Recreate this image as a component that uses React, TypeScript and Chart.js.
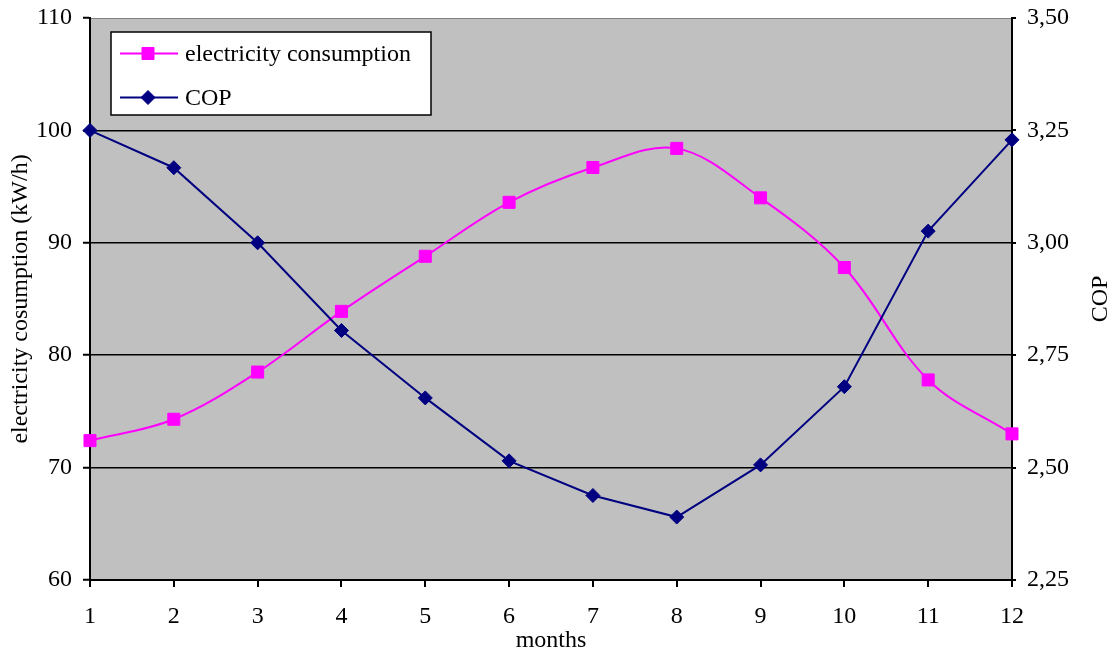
import React, { useEffect, useRef } from 'react';
import { Chart, registerables } from 'chart.js';

Chart.register(...registerables);

// Monthly values
const months = ['1', '2', '3', '4', '5', '6', '7', '8', '9', '10', '11', '12'];
const electricity = [72.4, 74.3, 78.5, 83.9, 88.8, 93.6, 96.7, 98.4, 94.0, 87.8, 77.8, 73.0];
const cop = [3.25, 3.167, 3.0, 2.805, 2.655, 2.515, 2.438, 2.39, 2.506, 2.68, 3.026, 3.229];

// Axis ranges
const elecRange = [60, 110];
const elecStep = 10;
const copRange = [2.25, 3.5];
const copStep = 0.25;

// Texts
const seriesNames = ['electricity consumption', 'COP'];
const xTitle = 'months';
const leftTitle = 'electricity cosumption (kW/h)';
const rightTitle = 'COP';

const FONT_FAMILY = "'Liberation Serif', 'Times New Roman', serif";
const FONT_SIZE = 24;
const PINK = '#FF00FF';
const NAVY = '#000080';
const PLOT_BG = '#C0C0C0';

const font = { family: FONT_FAMILY, size: FONT_SIZE, lineHeight: 1.2 };

const formatCop = (v: number) => Number(v).toFixed(2).replace('.', ',');

// Keep the plot frame fixed: axis boxes get set sizes and no extra label padding
const fixVertical = (width: number) => (s: any) => {
  s.width = width;
  s.paddingTop = 0;
  s.paddingBottom = 0;
};

// Gray plot area fill behind everything
const plotBackground = {
  id: 'plotBackground',
  beforeDraw(chart: any) {
    const { ctx, chartArea } = chart;
    const { left, top, right, bottom } = chartArea;
    ctx.save();
    ctx.fillStyle = PLOT_BG;
    ctx.fillRect(left, top, right - left, bottom - top);
    ctx.strokeStyle = '#808080';
    ctx.lineWidth = 1;
    ctx.beginPath();
    ctx.moveTo(left, top + 0.5);
    ctx.lineTo(right, top + 0.5);
    ctx.stroke();
    ctx.restore();
  },
};

// Secondary axis title, reading bottom to top
const rightAxisTitle = {
  id: 'rightAxisTitle',
  afterDraw(chart: any) {
    const { ctx, chartArea } = chart;
    ctx.save();
    ctx.translate(chart.width - 18, (chartArea.top + chartArea.bottom) / 2);
    ctx.rotate(-Math.PI / 2);
    ctx.fillStyle = '#000';
    ctx.font = `${FONT_SIZE}px ${FONT_FAMILY}`;
    ctx.textAlign = 'center';
    ctx.textBaseline = 'middle';
    ctx.fillText(rightTitle, 0, 0);
    ctx.restore();
  },
};

function drawMarker(ctx: CanvasRenderingContext2D, style: string, x: number, y: number, r: number, color: string) {
  ctx.fillStyle = color;
  ctx.strokeStyle = color;
  ctx.lineWidth = 1;
  ctx.beginPath();
  if (style === 'rect') {
    const s = Math.SQRT1_2 * r;
    ctx.rect(x - s, y - s, 2 * s, 2 * s);
  } else {
    ctx.moveTo(x - r, y);
    ctx.lineTo(x, y - r);
    ctx.lineTo(x + r, y);
    ctx.lineTo(x, y + r);
    ctx.closePath();
  }
  ctx.fill();
  ctx.stroke();
}

// Boxed legend inside the plot area
const boxedLegend = {
  id: 'boxedLegend',
  afterDraw(chart: any) {
    const { ctx, chartArea } = chart;
    const x0 = chartArea.left + 21;
    const y0 = chartArea.top + 14;
    const w = 320;
    const h = 83;
    ctx.save();
    ctx.fillStyle = '#fff';
    ctx.fillRect(x0, y0, w, h);
    ctx.strokeStyle = '#000';
    ctx.lineWidth = 1.5;
    ctx.strokeRect(x0, y0, w, h);
    const entries = chart.data.datasets.map((ds: any, i: number) => ({
      label: ds.label,
      color: ds.borderColor,
      style: ds.pointStyle,
      r: i === 0 ? 8.5 : 7,
      y: y0 + 21.5 + i * 44,
    }));
    ctx.font = `${FONT_SIZE}px ${FONT_FAMILY}`;
    ctx.textBaseline = 'middle';
    ctx.textAlign = 'left';
    for (const e of entries) {
      ctx.strokeStyle = e.color;
      ctx.lineWidth = 2;
      ctx.beginPath();
      ctx.moveTo(x0 + 9, e.y);
      ctx.lineTo(x0 + 67, e.y);
      ctx.stroke();
      drawMarker(ctx, e.style, x0 + 37, e.y, e.r, e.color);
      ctx.fillStyle = '#000';
      ctx.fillText(e.label, x0 + 74, e.y + 1);
    }
    ctx.restore();
  },
};

export default function App() {
  const canvasRef = useRef<HTMLCanvasElement>(null);

  useEffect(() => {
    const chart = new Chart(canvasRef.current!, {
      type: 'line',
      data: {
        labels: months,
        datasets: [
          {
            label: seriesNames[0],
            data: electricity,
            yAxisID: 'y',
            borderColor: PINK,
            backgroundColor: PINK,
            borderWidth: 2,
            pointStyle: 'rect',
            pointRadius: 8.5,
            pointBorderWidth: 1,
            tension: 0.35,
            clip: false,
            order: 2,
          },
          {
            label: seriesNames[1],
            data: cop,
            yAxisID: 'y2',
            borderColor: NAVY,
            backgroundColor: NAVY,
            borderWidth: 2,
            pointStyle: 'rectRot',
            pointRadius: 7,
            pointBorderWidth: 1,
            tension: 0,
            clip: false,
            order: 1,
          },
        ],
      },
      options: {
        animation: false,
        responsive: true,
        maintainAspectRatio: false,
        events: [],
        layout: { padding: { top: 18, left: 0, right: 0, bottom: 0 } },
        plugins: {
          legend: { display: false },
          tooltip: { enabled: false },
        },
        scales: {
          x: {
            type: 'category',
            offset: false,
            grid: { drawOnChartArea: false, color: '#000', lineWidth: 2, tickLength: 7 },
            border: { color: '#000', width: 2 },
            ticks: { color: '#000', font, padding: 15, maxRotation: 0, autoSkip: false },
            title: { display: true, text: xTitle, color: '#000', font, padding: { top: 0, bottom: 0 } },
            afterFit: (s: any) => {
              s.height = 75;
              s.paddingLeft = 0;
              s.paddingRight = 0;
            },
          },
          y: {
            position: 'left',
            min: elecRange[0],
            max: elecRange[1],
            ticks: { stepSize: elecStep, color: '#000', font, padding: 11 },
            grid: {
              color: (c: any) => (c.tick && c.tick.value === elecRange[1] ? 'rgba(0,0,0,0)' : '#000'),
              lineWidth: 1.5,
              tickLength: 7,
              tickColor: '#000',
              tickWidth: 2,
            },
            border: { color: '#000', width: 2 },
            title: { display: true, text: leftTitle, color: '#000', font, padding: { top: 6, bottom: 0 } },
            afterFit: fixVertical(90),
          },
          y2: {
            position: 'right',
            min: copRange[0],
            max: copRange[1],
            ticks: { stepSize: copStep, color: '#000', font, padding: 11, callback: (v: any) => formatCop(v) },
            grid: { drawOnChartArea: false, color: '#000', lineWidth: 2, tickLength: 4 },
            border: { color: '#000', width: 2 },
            afterFit: fixVertical(107),
          },
        },
      },
      plugins: [plotBackground, boxedLegend, rightAxisTitle],
    } as any);
    return () => chart.destroy();
  }, []);

  return (
    <div style={{ position: 'fixed', left: 0, top: 0, width: 1119, height: 655, background: '#fff' }}>
      <canvas ref={canvasRef} />
    </div>
  );
}
